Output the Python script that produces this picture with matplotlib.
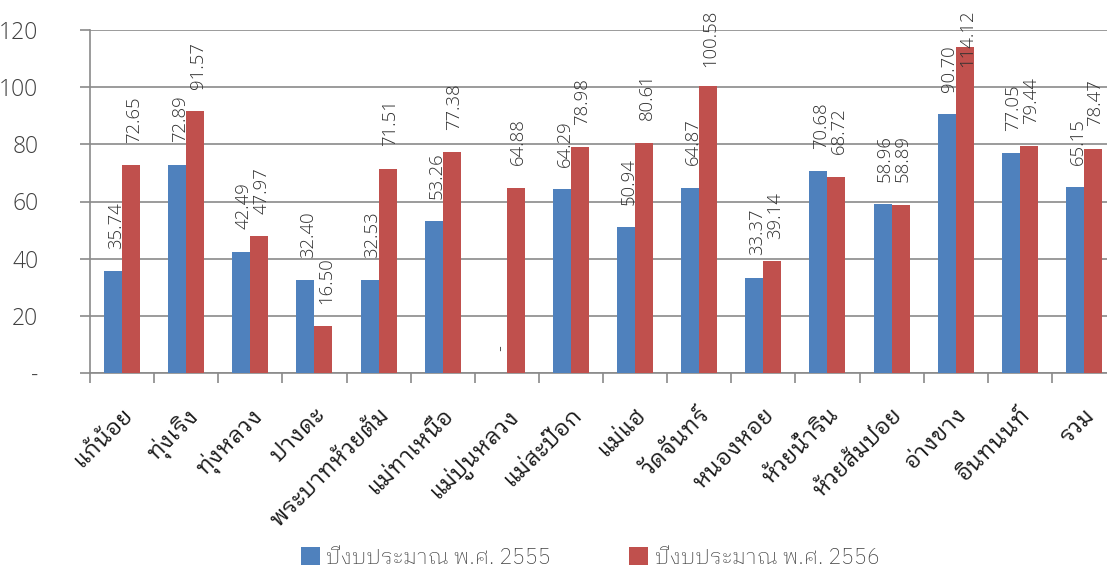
import matplotlib
matplotlib.use("Agg")
import matplotlib.pyplot as plt
import numpy as np

plt.rcParams['font.family'] = ['IBM Plex Sans Thai Looped', 'Noto Sans Thai Looped', 'DejaVu Sans']

# categories (sub-districts) and budget per year
categories = ['แก้น้อย', 'ทุ่งเริง', 'ทุ่งหลวง', 'ปางดะ', 'พระบาทห้วยต้ม', 'แม่ทาเหนือ',
              'แม่ปูนหลวง', 'แม่สะป๊อก', 'แม่แฮ', 'วัดจันทร์', 'หนองหอย', 'ห้วยน้ำริน',
              'ห้วยส้มป่อย', 'อ่างขาง', 'อินทนนท์', 'รวม']
y2555 = [35.74, 72.89, 42.49, 32.40, 32.53, 53.26, 0, 64.29, 50.94, 64.87,
         33.37, 70.68, 58.96, 90.70, 77.05, 65.15]
y2556 = [72.65, 91.57, 47.97, 16.50, 71.51, 77.38, 64.88, 78.98, 80.61, 100.58,
         39.14, 68.72, 58.89, 114.12, 79.44, 78.47]
series_names = ['ปีงบประมาณ พ.ศ. 2555', 'ปีงบประมาณ พ.ศ. 2556']
yticks = [0, 20, 40, 60, 80, 100, 120]
ytick_labels = ['-', '20', '40', '60', '80', '100', '120']

blue = '#4f81bd'
red = '#c0504d'
grey = '#8a8a8a'
text_col = '#404040'
num_font = ['Open Sans', 'DejaVu Sans']

fig = plt.figure(figsize=(11.07, 5.69), dpi=100)
ax = fig.add_axes([90 / 1107, 196 / 569, 1026 / 1107, 343 / 569])

x = np.arange(len(categories))
w = 0.28
b1 = ax.bar(x - w / 2, y2555, w, color=blue, label=series_names[0], zorder=3)
b2 = ax.bar(x + w / 2, y2556, w, color=red, label=series_names[1], zorder=3)

# value labels, rotated
labels = []
for bars, vals in [(b1, y2555), (b2, y2556)]:
    for rect, v in zip(bars, vals):
        txt = '-' if v == 0 else '%.2f' % v
        t = ax.annotate(txt, (rect.get_x() + rect.get_width() / 2 + 0.04, v),
                        xytext=(0, 16), textcoords='offset points',
                        rotation=90, ha='center', va='bottom',
                        fontsize=13.3, color='#303030', family=num_font, fontweight='light')
        labels.append(t)

ax.set_xlim(-0.5, len(categories) - 0.5)
ax.set_ylim(0, 120)
ax.set_yticks(yticks)
ax.set_yticklabels(ytick_labels, family=num_font, fontweight='light')
ax.yaxis.grid(True, color=grey, linewidth=1.2, zorder=0)
ax.tick_params(axis='y', length=7.2, width=1.2, color=grey, labelsize=16.5, labelcolor=text_col, pad=30)

ax.set_xticks(x)
ax.set_xticklabels(categories, rotation=45, ha='right', rotation_mode='anchor')
ax.set_xticks(np.arange(len(categories) + 1) - 0.5, minor=True)
ax.tick_params(axis='x', which='major', length=0, labelsize=16.5, pad=22, labelcolor='#1a1a1a')
ax.tick_params(axis='x', which='minor', length=7.2, color=grey, width=1.2)

for s in ['top', 'right']:
    ax.spines[s].set_visible(False)
for s in ['left', 'bottom']:
    ax.spines[s].set_color(grey)
    ax.spines[s].set_linewidth(1.2)

fig.legend(handles=[b1, b2], loc='center', bbox_to_anchor=(0.533, 0.02), ncol=2,
           frameon=False, prop={'size': 15.5, 'weight': 'light'}, handlelength=0.9, handleheight=0.9,
           handletextpad=0.3, columnspacing=3.6, labelcolor=text_col)

# keep value labels inside the picture (pushed down like the spreadsheet does)
fig.canvas.draw()
top_limit = fig.bbox.height - 10
for t in labels:
    bb = t.get_window_extent()
    if bb.y1 > top_limit:
        over = (bb.y1 - top_limit) * 72 / fig.dpi
        t.xyann = (0, 16 - over)

fig.savefig('out.png')
